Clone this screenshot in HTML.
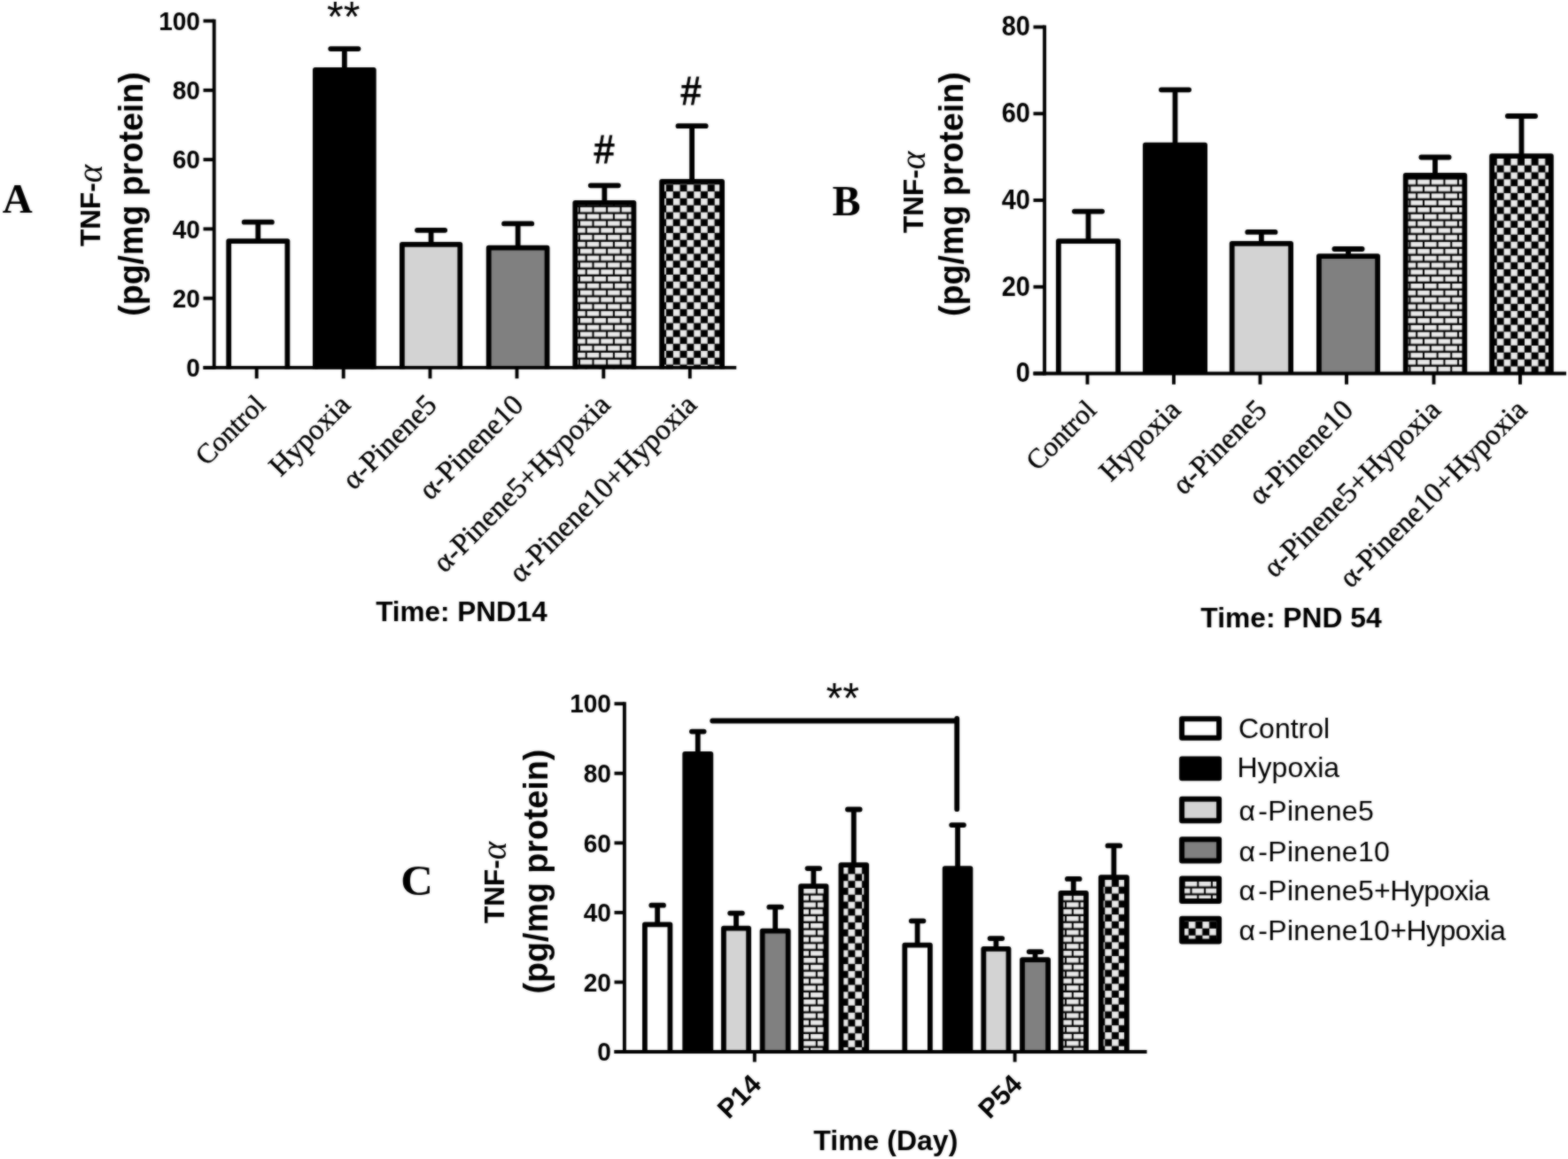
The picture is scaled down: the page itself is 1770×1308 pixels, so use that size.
<!DOCTYPE html>
<html lang="en">
<head>
<meta charset="utf-8">
<title>TNF-alpha figure</title>
<style>
html,body{margin:0;padding:0;background:#fff;}
body{width:1770px;height:1308px;overflow:hidden;}
svg{display:block;}
text{fill:#000;}
</style>
</head>
<body>
<svg width="1770" height="1308" viewBox="0 0 1770 1308">
<defs>
<filter id="soft" filterUnits="userSpaceOnUse" x="-20" y="-20" width="1810" height="1348" color-interpolation-filters="sRGB"><feGaussianBlur stdDeviation="0.9"/></filter>
<pattern id="brick" patternUnits="userSpaceOnUse" x="0" y="0" width="15.6" height="15.64">
<rect width="15.6" height="15.64" fill="#000"/>
<rect x="0" y="0" width="13.6" height="5.52" fill="#ebebeb"/>
<rect x="7.8" y="7.82" width="7.8" height="5.52" fill="#ebebeb"/>
<rect x="0" y="7.82" width="5.8" height="5.52" fill="#ebebeb"/>
</pattern>
<pattern id="check" patternUnits="userSpaceOnUse" x="0" y="0" width="15.6" height="15.64">
<rect width="15.6" height="15.64" fill="#000"/>
<rect x="0" y="0" width="7.6" height="7.6" fill="#eaeaea"/>
<rect x="7.8" y="7.82" width="7.6" height="7.6" fill="#eaeaea"/>
</pattern>
</defs>
<g id="fig">
<rect x="-20" y="-20" width="1810" height="1348" fill="#fff"/>
<path d="M241.7 21.65V416.85" stroke="#000" stroke-width="3.9" fill="none"/>
<path d="M229.5 414.9H241.7" stroke="#000" stroke-width="3.9" fill="none"/>
<text transform="translate(225.9 425.08) scale(0.95 1)" text-anchor="end" font-family='"Liberation Sans", sans-serif' font-weight="bold" font-size="29.5">0</text>
<path d="M229.5 336.64H241.7" stroke="#000" stroke-width="3.9" fill="none"/>
<text transform="translate(225.9 346.82) scale(0.95 1)" text-anchor="end" font-family='"Liberation Sans", sans-serif' font-weight="bold" font-size="29.5">20</text>
<path d="M229.5 258.38H241.7" stroke="#000" stroke-width="3.9" fill="none"/>
<text transform="translate(225.9 268.56) scale(0.95 1)" text-anchor="end" font-family='"Liberation Sans", sans-serif' font-weight="bold" font-size="29.5">40</text>
<path d="M229.5 180.12H241.7" stroke="#000" stroke-width="3.9" fill="none"/>
<text transform="translate(225.9 190.3) scale(0.95 1)" text-anchor="end" font-family='"Liberation Sans", sans-serif' font-weight="bold" font-size="29.5">60</text>
<path d="M229.5 101.86H241.7" stroke="#000" stroke-width="3.9" fill="none"/>
<text transform="translate(225.9 112.04) scale(0.95 1)" text-anchor="end" font-family='"Liberation Sans", sans-serif' font-weight="bold" font-size="29.5">80</text>
<path d="M229.5 23.6H241.7" stroke="#000" stroke-width="3.9" fill="none"/>
<text transform="translate(225.9 33.78) scale(0.95 1)" text-anchor="end" font-family='"Liberation Sans", sans-serif' font-weight="bold" font-size="29.5">100</text>
<path d="M275.7 250.7H306.9M291.3 250.7V272.1" stroke="#000" stroke-width="5.8" stroke-linecap="round" fill="none"/>
<path d="M258.2 416.4V272.1H324.4V416.4" fill="#ffffff" stroke="#000" stroke-width="5.8" stroke-linejoin="round"/>
<path d="M373.25 55.1H404.45M388.85 55.1V79" stroke="#000" stroke-width="5.8" stroke-linecap="round" fill="none"/>
<path d="M355.9 416.4V79H421.8V416.4" fill="#000000" stroke="#000" stroke-width="5.8" stroke-linejoin="round"/>
<path d="M471 259.8H502.2M486.6 259.8V275.8" stroke="#000" stroke-width="5.8" stroke-linecap="round" fill="none"/>
<path d="M453.9 416.4V275.8H519.3V416.4" fill="#d3d3d3" stroke="#000" stroke-width="5.8" stroke-linejoin="round"/>
<path d="M569.05 252.4H600.25M584.65 252.4V279.7" stroke="#000" stroke-width="5.8" stroke-linecap="round" fill="none"/>
<path d="M551.7 416.4V279.7H617.6V416.4" fill="#808080" stroke="#000" stroke-width="5.8" stroke-linejoin="round"/>
<path d="M666.75 209.3H697.95M682.35 209.3V228.8" stroke="#000" stroke-width="5.8" stroke-linecap="round" fill="none"/>
<g transform="translate(654.9 233.8)"><path d="M-5.6 182.6V-5H60.5V182.6" fill="url(#brick)" stroke="#000" stroke-width="5.8" stroke-linejoin="round"/></g>
<path d="M765.5 142.2H796.7M781.1 142.2V204.9" stroke="#000" stroke-width="5.8" stroke-linecap="round" fill="none"/>
<g transform="translate(759.9 208.3)"><path d="M-12.8 208.1V-3.4H55.2V208.1" fill="url(#check)" stroke="#000" stroke-width="5.8" stroke-linejoin="round"/></g>
<path d="M229.5 414.9H831.2" stroke="#000" stroke-width="3.9" fill="none"/>
<path d="M289.7 414.9V427.2" stroke="#000" stroke-width="3.9" fill="none"/>
<path d="M387.7 414.9V427.2" stroke="#000" stroke-width="3.9" fill="none"/>
<path d="M485.5 414.9V427.2" stroke="#000" stroke-width="3.9" fill="none"/>
<path d="M583.5 414.9V427.2" stroke="#000" stroke-width="3.9" fill="none"/>
<path d="M681.3 414.9V427.2" stroke="#000" stroke-width="3.9" fill="none"/>
<path d="M778.8 414.9V427.2" stroke="#000" stroke-width="3.9" fill="none"/>
<text transform="translate(301.3 458.7) rotate(-45)" text-anchor="end" font-family='"Liberation Serif", serif' font-weight="normal" font-size="31.5" stroke="#000" stroke-width="0.4">Control</text>
<text transform="translate(397 458.7) rotate(-45)" text-anchor="end" font-family='"Liberation Serif", serif' font-weight="normal" font-size="33" stroke="#000" stroke-width="0.4">Hypoxia</text>
<text transform="translate(494.8 458.7) rotate(-45)" text-anchor="end" font-family='"Liberation Serif", serif' font-weight="normal" font-size="33" stroke="#000" stroke-width="0.4">α-Pinene5</text>
<text transform="translate(592.8 458.7) rotate(-45)" text-anchor="end" font-family='"Liberation Serif", serif' font-weight="normal" font-size="33" stroke="#000" stroke-width="0.4">α-Pinene10</text>
<text transform="translate(690.6 458.7) rotate(-45)" text-anchor="end" font-family='"Liberation Serif", serif' font-weight="normal" font-size="33" stroke="#000" stroke-width="0.4">α-Pinene5+Hypoxia</text>
<text transform="translate(788.1 458.7) rotate(-45)" text-anchor="end" font-family='"Liberation Serif", serif' font-weight="normal" font-size="33" stroke="#000" stroke-width="0.4">α-Pinene10+Hypoxia</text>
<text x="387.7" y="35.3" text-anchor="middle" font-family='"Liberation Sans", sans-serif' font-weight="normal" font-size="48" >**</text>
<text transform="translate(682.1 184.4) scale(0.9 1)" text-anchor="middle" font-family='"Liberation Sans", sans-serif' font-size="45" stroke="#000" stroke-width="1.2">#</text>
<text transform="translate(780 118.3) scale(0.9 1)" text-anchor="middle" font-family='"Liberation Sans", sans-serif' font-size="45" stroke="#000" stroke-width="1.2">#</text>
<text x="521" y="700.8" text-anchor="middle" font-family='"Liberation Sans", sans-serif' font-weight="bold" font-size="31.5" >Time: PND14</text>
<text transform="translate(113 278.1) rotate(-90)" text-anchor="start" font-family='"Liberation Sans", sans-serif' font-weight="bold" font-size="31.5">TNF-<tspan font-family='"Liberation Serif", serif' font-style="italic" font-weight="normal" font-size="39" dy="2">α</tspan></text>
<text transform="translate(161.3 219.05) rotate(-90) scale(0.952 1)" text-anchor="middle" font-family='"Liberation Sans", sans-serif' font-weight="bold" font-size="39.5">(pg/mg protein)</text>
<text x="2.7" y="240.3" text-anchor="start" font-family='"Liberation Serif", serif' font-weight="bold" font-size="47" >A</text>
<path d="M1179.1 28.55V423.45" stroke="#000" stroke-width="3.9" fill="none"/>
<path d="M1166.5 421.5H1179.1" stroke="#000" stroke-width="3.9" fill="none"/>
<text transform="translate(1162.9 431.42) scale(0.95 1)" text-anchor="end" font-family='"Liberation Sans", sans-serif' font-weight="bold" font-size="30.5">0</text>
<path d="M1166.5 323.75H1179.1" stroke="#000" stroke-width="3.9" fill="none"/>
<text transform="translate(1162.9 333.67) scale(0.95 1)" text-anchor="end" font-family='"Liberation Sans", sans-serif' font-weight="bold" font-size="30.5">20</text>
<path d="M1166.5 226H1179.1" stroke="#000" stroke-width="3.9" fill="none"/>
<text transform="translate(1162.9 235.92) scale(0.95 1)" text-anchor="end" font-family='"Liberation Sans", sans-serif' font-weight="bold" font-size="30.5">40</text>
<path d="M1166.5 128.25H1179.1" stroke="#000" stroke-width="3.9" fill="none"/>
<text transform="translate(1162.9 138.17) scale(0.95 1)" text-anchor="end" font-family='"Liberation Sans", sans-serif' font-weight="bold" font-size="30.5">60</text>
<path d="M1166.5 30.5H1179.1" stroke="#000" stroke-width="3.9" fill="none"/>
<text transform="translate(1162.9 40.42) scale(0.95 1)" text-anchor="end" font-family='"Liberation Sans", sans-serif' font-weight="bold" font-size="30.5">80</text>
<path d="M1212.9 238.6H1244.1M1228.5 238.6V272.2" stroke="#000" stroke-width="5.8" stroke-linecap="round" fill="none"/>
<path d="M1194.9 423V272.2H1262.1V423" fill="#ffffff" stroke="#000" stroke-width="5.8" stroke-linejoin="round"/>
<path d="M1310.9 101.3H1342.1M1326.5 101.3V163.7" stroke="#000" stroke-width="5.8" stroke-linecap="round" fill="none"/>
<path d="M1292.9 423V163.7H1360.1V423" fill="#000000" stroke="#000" stroke-width="5.8" stroke-linejoin="round"/>
<path d="M1408.3 261.9H1439.5M1423.9 261.9V274.8" stroke="#000" stroke-width="5.8" stroke-linecap="round" fill="none"/>
<path d="M1390.7 423V274.8H1457.1V423" fill="#d3d3d3" stroke="#000" stroke-width="5.8" stroke-linejoin="round"/>
<path d="M1506.4 281H1537.6M1522 281V289.1" stroke="#000" stroke-width="5.8" stroke-linecap="round" fill="none"/>
<path d="M1488.9 423V289.1H1555.1V423" fill="#808080" stroke="#000" stroke-width="5.8" stroke-linejoin="round"/>
<path d="M1604.4 177.5H1635.6M1620 177.5V198" stroke="#000" stroke-width="5.8" stroke-linecap="round" fill="none"/>
<g transform="translate(1592.4 210.5)"><path d="M-5.7 212.5V-12.5H60.9V212.5" fill="url(#brick)" stroke="#000" stroke-width="5.8" stroke-linejoin="round"/></g>
<path d="M1701.9 131H1733.1M1717.5 131V176.1" stroke="#000" stroke-width="5.8" stroke-linecap="round" fill="none"/>
<g transform="translate(1689.8 178.9)"><path d="M-5.7 244.1V-2.8H61.1V244.1" fill="url(#check)" stroke="#000" stroke-width="5.8" stroke-linejoin="round"/></g>
<path d="M1166.5 421.5H1768" stroke="#000" stroke-width="3.9" fill="none"/>
<path d="M1227.5 421.5V433.8" stroke="#000" stroke-width="3.9" fill="none"/>
<path d="M1325 421.5V433.8" stroke="#000" stroke-width="3.9" fill="none"/>
<path d="M1422.5 421.5V433.8" stroke="#000" stroke-width="3.9" fill="none"/>
<path d="M1520 421.5V433.8" stroke="#000" stroke-width="3.9" fill="none"/>
<path d="M1618.5 421.5V433.8" stroke="#000" stroke-width="3.9" fill="none"/>
<path d="M1716 421.5V433.8" stroke="#000" stroke-width="3.9" fill="none"/>
<text transform="translate(1239.1 464.5) rotate(-45)" text-anchor="end" font-family='"Liberation Serif", serif' font-weight="normal" font-size="31.5" stroke="#000" stroke-width="0.4">Control</text>
<text transform="translate(1334.3 464.5) rotate(-45)" text-anchor="end" font-family='"Liberation Serif", serif' font-weight="normal" font-size="33" stroke="#000" stroke-width="0.4">Hypoxia</text>
<text transform="translate(1431.8 464.5) rotate(-45)" text-anchor="end" font-family='"Liberation Serif", serif' font-weight="normal" font-size="33" stroke="#000" stroke-width="0.4">α-Pinene5</text>
<text transform="translate(1529.3 464.5) rotate(-45)" text-anchor="end" font-family='"Liberation Serif", serif' font-weight="normal" font-size="33" stroke="#000" stroke-width="0.4">α-Pinene10</text>
<text transform="translate(1627.8 464.5) rotate(-45)" text-anchor="end" font-family='"Liberation Serif", serif' font-weight="normal" font-size="33" stroke="#000" stroke-width="0.4">α-Pinene5+Hypoxia</text>
<text transform="translate(1725.3 464.5) rotate(-45)" text-anchor="end" font-family='"Liberation Serif", serif' font-weight="normal" font-size="33" stroke="#000" stroke-width="0.4">α-Pinene10+Hypoxia</text>
<text x="1457.5" y="707.8" text-anchor="middle" font-family='"Liberation Sans", sans-serif' font-weight="bold" font-size="31.8" >Time: PND 54</text>
<text transform="translate(1041.7 262.9) rotate(-90)" text-anchor="start" font-family='"Liberation Sans", sans-serif' font-weight="bold" font-size="31.5">TNF-<tspan font-family='"Liberation Serif", serif' font-style="italic" font-weight="normal" font-size="39" dy="2">α</tspan></text>
<text transform="translate(1087.3 219.1) rotate(-90) scale(0.952 1)" text-anchor="middle" font-family='"Liberation Sans", sans-serif' font-weight="bold" font-size="39.5">(pg/mg protein)</text>
<text x="939.5" y="242.5" text-anchor="start" font-family='"Liberation Serif", serif' font-weight="bold" font-size="48" >B</text>
<path d="M704.9 792.25V1188.95" stroke="#000" stroke-width="3.9" fill="none"/>
<path d="M693.5 1187H704.9" stroke="#000" stroke-width="3.9" fill="none"/>
<text transform="translate(689.9 1197.18) scale(0.95 1)" text-anchor="end" font-family='"Liberation Sans", sans-serif' font-weight="bold" font-size="29.5">0</text>
<path d="M693.5 1108.44H704.9" stroke="#000" stroke-width="3.9" fill="none"/>
<text transform="translate(689.9 1118.62) scale(0.95 1)" text-anchor="end" font-family='"Liberation Sans", sans-serif' font-weight="bold" font-size="29.5">20</text>
<path d="M693.5 1029.88H704.9" stroke="#000" stroke-width="3.9" fill="none"/>
<text transform="translate(689.9 1040.06) scale(0.95 1)" text-anchor="end" font-family='"Liberation Sans", sans-serif' font-weight="bold" font-size="29.5">40</text>
<path d="M693.5 951.32H704.9" stroke="#000" stroke-width="3.9" fill="none"/>
<text transform="translate(689.9 961.5) scale(0.95 1)" text-anchor="end" font-family='"Liberation Sans", sans-serif' font-weight="bold" font-size="29.5">60</text>
<path d="M693.5 872.76H704.9" stroke="#000" stroke-width="3.9" fill="none"/>
<text transform="translate(689.9 882.94) scale(0.95 1)" text-anchor="end" font-family='"Liberation Sans", sans-serif' font-weight="bold" font-size="29.5">80</text>
<path d="M693.5 794.2H704.9" stroke="#000" stroke-width="3.9" fill="none"/>
<text transform="translate(689.9 804.38) scale(0.95 1)" text-anchor="end" font-family='"Liberation Sans", sans-serif' font-weight="bold" font-size="29.5">100</text>
<path d="M735.3 1021.7H749M742.15 1021.7V1043.3" stroke="#000" stroke-width="5.8" stroke-linecap="round" fill="none"/>
<path d="M727.9 1188.5V1043.3H756.4V1188.5" fill="#ffffff" stroke="#000" stroke-width="5.8" stroke-linejoin="round"/>
<path d="M780.9 825.6H794.6M787.75 825.6V850.9" stroke="#000" stroke-width="5.8" stroke-linecap="round" fill="none"/>
<path d="M773.2 1188.5V850.9H802.3V1188.5" fill="#000000" stroke="#000" stroke-width="5.8" stroke-linejoin="round"/>
<path d="M824.15 1030.6H837.85M831 1030.6V1047.7" stroke="#000" stroke-width="5.8" stroke-linecap="round" fill="none"/>
<path d="M816.9 1188.5V1047.7H845.1V1188.5" fill="#d3d3d3" stroke="#000" stroke-width="5.8" stroke-linejoin="round"/>
<path d="M868.3 1023.7H882M875.15 1023.7V1050.6" stroke="#000" stroke-width="5.8" stroke-linecap="round" fill="none"/>
<path d="M860.6 1188.5V1050.6H889.7V1188.5" fill="#808080" stroke="#000" stroke-width="5.8" stroke-linejoin="round"/>
<path d="M911.5 980.1H925.2M918.35 980.1V1000.2" stroke="#000" stroke-width="5.8" stroke-linecap="round" fill="none"/>
<g transform="translate(907.2 1002.8)"><path d="M-3.1 185.7V-2.6H25.4V185.7" fill="url(#brick)" stroke="#000" stroke-width="5.8" stroke-linejoin="round"/></g>
<path d="M956.9 913.5H970.6M963.75 913.5V976.1" stroke="#000" stroke-width="5.8" stroke-linecap="round" fill="none"/>
<g transform="translate(957.5 986.4)"><path d="M-8.1 202.1V-10.3H20.6V202.1" fill="url(#check)" stroke="#000" stroke-width="5.8" stroke-linejoin="round"/></g>
<path d="M1028.75 1039.3H1042.45M1035.6 1039.3V1066.6" stroke="#000" stroke-width="5.8" stroke-linecap="round" fill="none"/>
<path d="M1021.3 1188.5V1066.6H1049.9V1188.5" fill="#ffffff" stroke="#000" stroke-width="5.8" stroke-linejoin="round"/>
<path d="M1074.2 931.1H1087.9M1081.05 931.1V980.2" stroke="#000" stroke-width="5.8" stroke-linecap="round" fill="none"/>
<path d="M1066.7 1188.5V980.2H1095.4V1188.5" fill="#000000" stroke="#000" stroke-width="5.8" stroke-linejoin="round"/>
<path d="M1117.55 1059.1H1131.25M1124.4 1059.1V1070.8" stroke="#000" stroke-width="5.8" stroke-linecap="round" fill="none"/>
<path d="M1110.3 1188.5V1070.8H1138.5V1188.5" fill="#d3d3d3" stroke="#000" stroke-width="5.8" stroke-linejoin="round"/>
<path d="M1161.7 1074.1H1175.4M1168.55 1074.1V1083.1" stroke="#000" stroke-width="5.8" stroke-linecap="round" fill="none"/>
<path d="M1154 1188.5V1083.1H1183.1V1188.5" fill="#808080" stroke="#000" stroke-width="5.8" stroke-linejoin="round"/>
<path d="M1204.9 991.9H1218.6M1211.75 991.9V1007.9" stroke="#000" stroke-width="5.8" stroke-linecap="round" fill="none"/>
<g transform="translate(1211.8 1010.5)"><path d="M-14.3 178V-2.6H14.2V178" fill="url(#brick)" stroke="#000" stroke-width="5.8" stroke-linejoin="round"/></g>
<path d="M1250.5 954.4H1264.2M1257.35 954.4V990.1" stroke="#000" stroke-width="5.8" stroke-linecap="round" fill="none"/>
<g transform="translate(1247.3 993)"><path d="M-4.5 195.5V-2.9H24.6V195.5" fill="url(#check)" stroke="#000" stroke-width="5.8" stroke-linejoin="round"/></g>
<path d="M693.5 1187H1294.6" stroke="#000" stroke-width="3.9" fill="none"/>
<path d="M851.8 1187V1198.5" stroke="#000" stroke-width="3.9" fill="none"/>
<path d="M1145.6 1187V1198.5" stroke="#000" stroke-width="3.9" fill="none"/>
<path d="M804.2 813.5H1080.2M1080.2 811V913.2" stroke="#000" stroke-width="5.8" fill="none" stroke-linecap="round"/>
<text x="951.2" y="804.4" text-anchor="middle" font-family='"Liberation Sans", sans-serif' font-weight="normal" font-size="48" >**</text>
<text transform="translate(861 1225.6) rotate(-45)" text-anchor="end" font-family='"Liberation Sans", sans-serif' font-weight="bold" font-size="30.5" >P14</text>
<text transform="translate(1155.5 1225.6) rotate(-45)" text-anchor="end" font-family='"Liberation Sans", sans-serif' font-weight="bold" font-size="30.5" >P54</text>
<text x="999.8" y="1297.6" text-anchor="middle" font-family='"Liberation Sans", sans-serif' font-weight="bold" font-size="32" >Time (Day)</text>
<text transform="translate(568.9 1042.1) rotate(-90)" text-anchor="start" font-family='"Liberation Sans", sans-serif' font-weight="bold" font-size="31.5">TNF-<tspan font-family='"Liberation Serif", serif' font-style="italic" font-weight="normal" font-size="39" dy="2">α</tspan></text>
<text transform="translate(617.8 983.6) rotate(-90) scale(0.952 1)" text-anchor="middle" font-family='"Liberation Sans", sans-serif' font-weight="bold" font-size="39.5">(pg/mg protein)</text>
<text transform="translate(452.2 1010.2) scale(1.08 1.03)" font-family='"Liberation Serif", serif' font-weight="bold" font-size="47">C</text>
<g transform="translate(0 0)"><rect x="1334.1" y="811.2" width="42" height="21.5" fill="#ffffff" stroke="#000" stroke-width="6" stroke-linejoin="round"/></g>
<text x="1398" y="832.5" text-anchor="start" font-family='"Liberation Sans", sans-serif' font-weight="normal" font-size="32" >Control</text>
<g transform="translate(0 0)"><rect x="1334.1" y="856.5" width="42" height="21.7" fill="#000000" stroke="#000" stroke-width="6" stroke-linejoin="round"/></g>
<text x="1396.5" y="876.7" text-anchor="start" font-family='"Liberation Sans", sans-serif' font-weight="normal" font-size="32" >Hypoxia</text>
<g transform="translate(0 0)"><rect x="1334.1" y="901.8" width="42" height="24.4" fill="#d3d3d3" stroke="#000" stroke-width="6" stroke-linejoin="round"/></g>
<text x="1398.6" y="926" text-anchor="start" font-family='"Liberation Sans", sans-serif' font-weight="normal" font-size="32" ><tspan letter-spacing="3.1">α</tspan><tspan letter-spacing="0.35">-Pinene5</tspan></text>
<g transform="translate(0 0)"><rect x="1334.1" y="947.3" width="42" height="24.2" fill="#808080" stroke="#000" stroke-width="6" stroke-linejoin="round"/></g>
<text x="1398.6" y="971.6" text-anchor="start" font-family='"Liberation Sans", sans-serif' font-weight="normal" font-size="32" ><tspan letter-spacing="3.1">α</tspan><tspan letter-spacing="0.35">-Pinene10</tspan></text>
<g transform="translate(1353.3 994.8)"><rect x="-19.2" y="-3.3" width="42" height="25.5" fill="url(#brick)" stroke="#000" stroke-width="6" stroke-linejoin="round"/></g>
<text x="1398.6" y="1015.7" text-anchor="start" font-family='"Liberation Sans", sans-serif' font-weight="normal" font-size="32" ><tspan letter-spacing="3.1">α</tspan><tspan letter-spacing="0.35">-Pinene5</tspan><tspan letter-spacing="-0.55">+Hypoxia</tspan></text>
<g transform="translate(1341.8 1040.1)"><rect x="-7.7" y="-3.3" width="42" height="25.8" fill="url(#check)" stroke="#000" stroke-width="6" stroke-linejoin="round"/></g>
<text x="1398.6" y="1061" text-anchor="start" font-family='"Liberation Sans", sans-serif' font-weight="normal" font-size="32" ><tspan letter-spacing="3.1">α</tspan><tspan letter-spacing="0.35">-Pinene10</tspan><tspan letter-spacing="-0.55">+Hypoxia</tspan></text>
</g>
<use href="#fig" filter="url(#soft)" opacity="0.6"/>
</svg>
</body>
</html>
